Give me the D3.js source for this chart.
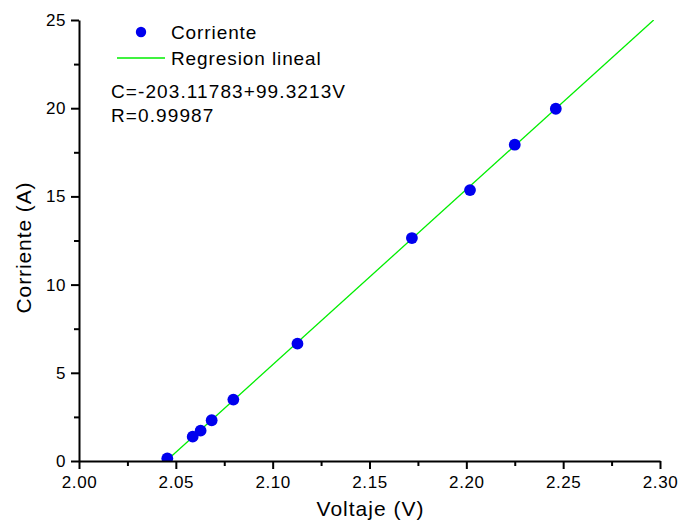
<!DOCTYPE html>
<html>
<head>
<meta charset="utf-8">
<script src="https://cdn.jsdelivr.net/npm/d3@7"></script>
<style>
  html, body { margin: 0; padding: 0; background: #fff; }
  text { font-family: "Liberation Sans", Arial, sans-serif; fill: #000; }
</style>
</head>
<body>
<svg id="chart" width="678" height="527"></svg>
<script>
// ---- data ----
const voltage = [2.0456, 2.0587, 2.0628, 2.0685, 2.0797, 2.1128, 2.1719, 2.2019, 2.2250, 2.2462];
const current = [0.15, 1.38, 1.72, 2.31, 3.48, 6.65, 12.64, 15.36, 17.93, 19.97];
const fitV = [2.04503, 2.29674];
const fitC = [0, 25];
const xTicks = [2.00, 2.05, 2.10, 2.15, 2.20, 2.25, 2.30];
const yTicks = [0, 5, 10, 15, 20, 25];
const xMinor = [2.025, 2.075, 2.125, 2.175, 2.225, 2.275];
const yMinor = [2.5, 7.5, 12.5, 17.5, 22.5];
const legendLabels = ["Corriente", "Regresion lineal"];
const eqLines = ["C=-203.11783+99.3213V", "R=0.99987"];

const svg = d3.select("#chart");
const L = 79, R = 660, T = 20, B = 461;
const x = d3.scaleLinear().domain([2.00, 2.30]).range([L, R]);
const y = d3.scaleLinear().domain([0, 25]).range([B, T]);

svg.append("defs").append("clipPath").attr("id", "plot")
  .append("rect").attr("x", L).attr("y", T).attr("width", R - L).attr("height", B - T);

const marks = svg.append("g").attr("clip-path", "url(#plot)");
marks.append("line")
  .attr("x1", x(fitV[0])).attr("y1", y(fitC[0]))
  .attr("x2", x(fitV[1])).attr("y2", y(fitC[1]))
  .attr("stroke", "#00ee00").attr("stroke-width", 1.3);
marks.selectAll("circle").data(voltage.map((v, i) => [v, current[i]]))
  .enter().append("circle")
  .attr("cx", d => x(d[0])).attr("cy", d => y(d[1])).attr("r", 5.9)
  .attr("fill", "#0000ee");

// axes
const fs = 17;
const xAxis = svg.append("g").attr("transform", `translate(0,${B})`)
  .call(d3.axisBottom(x).tickValues(xTicks).tickFormat(d3.format(".2f")).tickSize(8).tickSizeOuter(0));
svg.append("g").attr("transform", `translate(0,${B})`)
  .call(d3.axisBottom(x).tickValues(xMinor).tickFormat("").tickSize(5).tickSizeOuter(0))
  .select(".domain").remove();
const yAxis = svg.append("g").attr("transform", `translate(${L},0)`)
  .call(d3.axisLeft(y).tickValues(yTicks).tickSize(8).tickSizeOuter(0));
svg.append("g").attr("transform", `translate(${L},0)`)
  .call(d3.axisLeft(y).tickValues(yMinor).tickFormat("").tickSize(5).tickSizeOuter(0))
  .select(".domain").remove();
svg.selectAll(".domain, .tick line").attr("stroke", "#000").attr("stroke-width", 2);
xAxis.selectAll("text").attr("font-size", fs).attr("dy", "0.71em").attr("y", 15)
  .style("letter-spacing", "0.6px").attr("fill", "#000");
yAxis.selectAll("text").attr("font-size", fs).attr("x", -13)
  .style("letter-spacing", "0.6px").attr("fill", "#000");
svg.selectAll(".tick text").attr("font-family", "Liberation Sans, Arial, sans-serif");

// axis titles
svg.append("text").attr("x", (L + R) / 2 + 1).attr("y", 516).attr("text-anchor", "middle")
  .attr("font-size", 21).style("letter-spacing", "1px").text("Voltaje (V)");
svg.append("text").attr("transform", `translate(31,${(T + B) / 2 + 7}) rotate(-90)`)
  .attr("text-anchor", "middle").attr("font-size", 21).style("letter-spacing", "0.9px")
  .text("Corriente (A)");

// legend
const lg = svg.append("g");
lg.append("circle").attr("cx", 141).attr("cy", 32).attr("r", 5.2).attr("fill", "#0000ee");
lg.append("line").attr("x1", 117).attr("x2", 165).attr("y1", 58).attr("y2", 58)
  .attr("stroke", "#00ee00").attr("stroke-width", 1.3);
lg.selectAll("text.leg").data(legendLabels).enter().append("text")
  .attr("x", 171).attr("y", (d, i) => 38.5 + i * 26)
  .attr("font-size", 19).style("letter-spacing", "0.9px").text(d => d);
lg.selectAll("text.eq").data(eqLines).enter().append("text")
  .attr("x", 111).attr("y", (d, i) => 98 + i * 24)
  .attr("font-size", 19).style("letter-spacing", "1.1px").text(d => d);
</script>
</body>
</html>
